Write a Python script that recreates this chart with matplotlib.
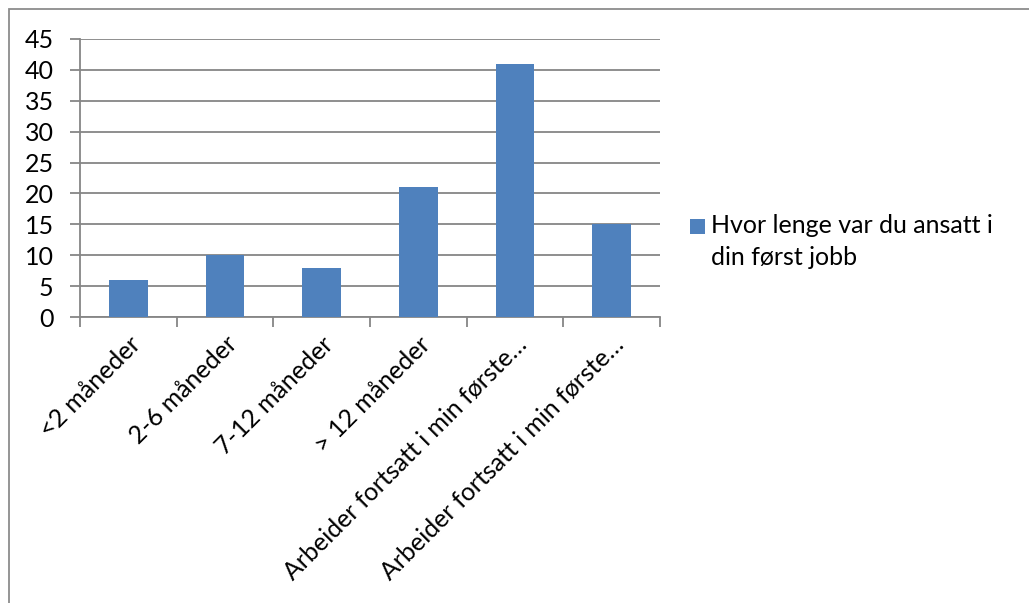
import matplotlib
matplotlib.use('Agg')
import matplotlib.pyplot as plt
from matplotlib.patches import Rectangle

plt.rcParams['font.family'] = ['Lato', 'DejaVu Sans']

categories = ['<2 måneder', '2-6 måneder', '7-12 måneder', '> 12 måneder',
              'Arbeider fortsatt i min første…', 'Arbeider fortsatt i min første…']
values = [6, 10, 8, 21, 41, 15]
series_name = 'Hvor lenge var du ansatt i\ndin først jobb'
yticks = [0, 5, 10, 15, 20, 25, 30, 35, 40, 45]

bar_color = '#4F81BD'
grid_color = '#868686'

fig = plt.figure(figsize=(10.29, 6.03), dpi=100)
ax = fig.add_axes([80/1029, 1-317/603, 580/1029, 278/603])

x = list(range(len(values)))
ax.bar(x, values, width=0.4, color=bar_color, zorder=3)

ax.set_xlim(-0.5, len(values)-0.5)
ax.set_ylim(0, 45)
ax.set_yticks(yticks)
ax.set_yticklabels([str(v) for v in yticks], fontsize=18)
ax.yaxis.grid(True, color=grid_color, linewidth=1.3, zorder=0)

# category ticks at boundaries, labels at centres
ax.set_xticks([i - 0.5 for i in range(len(values)+1)])
ax.set_xticklabels([])
ax.set_xticks(x, minor=True)
ax.set_xticklabels(categories, minor=True, rotation=45, ha='right', va='top',
                   rotation_mode='anchor', fontsize=18)
ax.tick_params(axis='x', which='minor', length=0, pad=11)
ax.tick_params(axis='x', which='major', length=7, width=1.3, color=grid_color)
ax.tick_params(axis='y', length=7, width=1.3, color=grid_color, pad=12)

for s in ['top', 'right']:
    ax.spines[s].set_visible(False)
for s in ['left', 'bottom']:
    ax.spines[s].set_color(grid_color)
    ax.spines[s].set_linewidth(1.3)

# legend: marker + two-line label
fig.patches.append(Rectangle((690/1029, 1-234/603), 15/1029, 15/603,
                             transform=fig.transFigure, facecolor=bar_color,
                             edgecolor='none'))
fig.text(711/1029, 1-214/603, series_name, fontsize=18, ha='left',
         va='top', linespacing=1.45)

# outer chart border (cut off at right and bottom)
fig.patches.append(Rectangle((9/1029, -0.1), 1.2, 1-9/603+0.1,
                             transform=fig.transFigure, fill=False,
                             edgecolor='#8C8C8C', linewidth=1.3))

fig.savefig('out.png', dpi=100)
